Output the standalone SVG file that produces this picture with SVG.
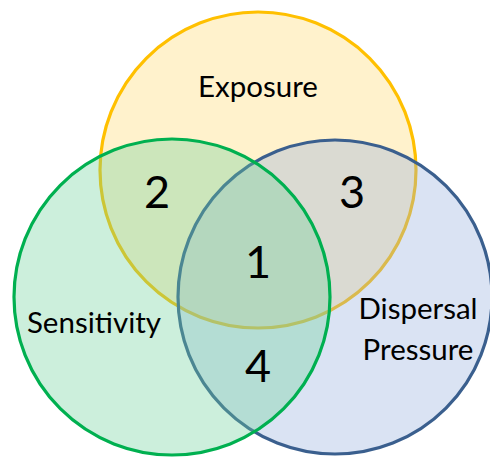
<svg xmlns="http://www.w3.org/2000/svg" width="490" height="457" viewBox="0 0 490 457">
<style>
.c{stroke-width:3.2}
.lbl{font-family:Lato,"Liberation Sans",sans-serif;font-size:29.5px;fill:#000;text-anchor:middle}
.num{font-family:Lato,"Liberation Sans",sans-serif;font-size:45px;fill:#000;text-anchor:middle}
</style>
<rect width="490" height="457" fill="#fff"/>
<g id="exposure">
<circle class="c" cx="258" cy="170" r="158" fill="#FFE699" fill-opacity="0.5" stroke="#FFC000"/>
</g>
<g id="dispersal">
<circle class="c" cx="335" cy="297" r="157" fill="#95AFDD" fill-opacity="0.35" stroke="#3A5F8E"/>
</g>
<g id="sensitivity">
<circle class="c" cx="172" cy="297" r="158" fill="#6DD19B" fill-opacity="0.35" stroke="#00B050"/>
</g>
<g id="labels">
<text class="lbl" x="258" y="97">Exposure</text>
<text class="lbl" x="94" y="333">Sensitivity</text>
<text class="lbl" x="418" y="319">Dispersal</text>
<text class="lbl" x="418" y="360">Pressure</text>
<text class="num" x="157" y="208">2</text>
<text class="num" x="352" y="208">3</text>
<text class="num" x="258" y="278">1</text>
<text class="num" x="258" y="382">4</text>
</g>
</svg>
